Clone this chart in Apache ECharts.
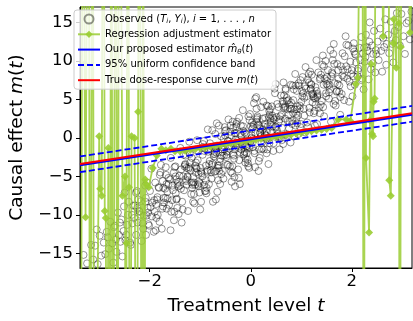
<!DOCTYPE html>
<html>
<head>
<meta charset="utf-8">
<script src="https://cdn.jsdelivr.net/npm/echarts@6/dist/echarts.min.js"></script>
<style>
html,body{margin:0;padding:0;background:#fff;}
#c{width:413px;height:321px;}
</style>
</head>
<body>
<div id="c"></div>
<script>
// Observed (T_i, Y_i), placed by reading the cloud in the picture
var observed = [
[-3.31,-15.2],[-3.24,-16.3],[-3.16,-13.9],[-3.12,-15.8],
[-3.08,-14.0],[-3.03,-16.4],[-2.99,-12.7],[-2.96,-15.3],[-2.91,-13.6],[-3.05,-11.9],
[-2.88,-15.1],[-2.85,-12.2],[-2.81,-14.4],[-2.78,-10.9],[-2.74,-13.7],[-2.72,-16.2],[-2.83,-12.9],[-2.71,-11.6],
[-2.69,-11.4],[-2.66,-14.8],[-2.63,-9.7],[-2.61,-12.6],[-2.58,-13.5],[-2.56,-10.6],[-2.54,-15.4],[-2.52,-12.1],[-2.67,-13.2],[-2.51,-8.9],[-2.59,-11.0],
[-2.463,-12.6],[-2.309,-10.4],[-2.496,-7.1],[-2.374,-13.9],[-2.431,-10.0],[-2.342,-11.1],[-2.482,-13.3],[-2.417,-8.3],[-2.353,-10.0],[-2.388,-13.6],[-2.324,-8.8],[-2.447,-11.3],
[-2.247,-9.1],[-2.269,-12.6],[-2.201,-9.6],[-2.116,-10.1],[-2.224,-8.0],[-2.162,-13.4],[-2.291,-8.8],[-2.138,-11.1],[-2.255,-6.9],[-2.179,-10.0],[-2.207,-9.5],[-2.131,-11.8],[-2.273,-7.1],[-2.242,-11.0],[-2.168,-8.2],
[-2.073,-12.6],[-2.042,-9.1],[-1.968,-4.0],[-1.902,-9.6],[-2.086,-8.3],[-2.013,-11.4],[-1.949,-8.4],[-2.035,-9.7],[-1.995,-6.9],[-1.921,-12.2],[-2.078,-7.8],[-1.958,-10.2],[-2.051,-5.8],[-1.984,-9.0],[-1.912,-8.1],[-2.028,-11.2],[-2.089,-6.2],[-2.063,-10.1],
[-1.742,-5.6],[-1.882,-12.0],[-1.817,-6.5],[-1.753,-9.2],[-1.788,-4.5],[-1.724,-7.8],[-1.847,-7.7],[-1.869,-10.4],[-1.801,-4.8],[-1.716,-8.4],[-1.824,-6.4],[-1.762,-11.8],[-1.891,-5.8],[-1.738,-8.9],[-1.855,-8.0],[-1.779,-3.5],[-1.807,-10.9],[-1.731,-6.5],[-1.873,-8.6],[-1.842,-10.0],
[-1.595,-5.4],[-1.521,-10.7],[-1.678,-4.8],[-1.558,-8.1],[-1.651,-7.0],[-1.584,-2.6],[-1.512,-9.6],[-1.628,-6.0],[-1.689,-7.8],[-1.663,-9.2],[-1.509,-3.8],[-1.696,-6.6],[-1.574,-9.6],[-1.631,-5.2],[-1.542,-6.8],[-1.682,-3.8],[-1.617,-8.7],[-1.553,-6.2],[-1.588,-12.0],[-1.524,-4.5],[-1.647,-7.9],[-1.669,-6.0],
[-1.491,-3.7],[-1.338,-5.0],[-1.455,-9.1],[-1.379,-4.1],[-1.407,-6.2],[-1.331,-2.2],[-1.473,-8.0],[-1.442,-5.7],[-1.368,-11.0],[-1.302,-3.5],[-1.486,-7.2],[-1.413,-4.9],[-1.349,-9.3],[-1.435,-6.3],[-1.395,-1.3],[-1.321,-6.8],[-1.478,-5.4],[-1.358,-8.3],[-1.451,-6.0],[-1.384,-6.6],[-1.312,-3.7],[-1.428,-9.9],[-1.489,-5.0],[-1.463,-7.9],
[-1.296,-3.4],[-1.174,-5.8],[-1.231,-4.0],[-1.142,-8.3],[-1.282,-5.6],[-1.217,-0.5],[-1.153,-6.1],[-1.188,-4.2],[-1.124,-7.3],[-1.247,-5.1],[-1.269,-6.1],[-1.201,-3.2],[-1.116,-8.5],[-1.224,-3.8],[-1.162,-6.5],[-1.291,-2.3],[-1.138,-5.1],[-1.255,-5.0],[-1.179,-7.3],[-1.207,-2.1],[-1.131,-5.8],[-1.273,-3.9],[-1.242,-9.5],[-1.168,-2.6],[-1.102,-6.1],[-1.286,-5.4],
[-1.086,-3.2],[-1.013,-5.9],[-0.949,-0.8],[-1.035,-4.7],[-0.995,-3.9],[-0.921,-6.1],[-1.078,-1.6],[-0.958,-5.0],[-1.051,-2.9],[-0.984,-8.3],[-0.912,-1.4],[-1.028,-5.7],[-1.089,-4.5],[-1.063,-0.3],[-0.909,-6.9],[-1.096,-3.6],[-0.974,-4.6],[-1.031,-6.3],[-0.942,-1.2],[-1.082,-3.9],[-1.017,-7.1],[-0.953,-2.2],[-0.988,-4.4],[-0.924,-0.4],[-1.047,-6.1],[-1.069,-4.0],[-1.001,-9.3],[-0.916,-1.7],
[-0.716,-4.4],[-0.824,-3.4],[-0.762,1.0],[-0.891,-6.9],[-0.738,-2.1],[-0.855,-4.2],[-0.779,-5.3],[-0.807,-0.7],[-0.731,-2.4],[-0.873,-6.5],[-0.842,-1.8],[-0.768,-3.5],[-0.702,0.5],[-0.886,-5.5],[-0.813,-3.0],[-0.749,-8.3],[-0.835,-1.5],[-0.795,-4.2],[-0.721,-1.8],[-0.878,-7.2],[-0.758,-3.3],[-0.851,1.1],[-0.784,-4.5],[-0.712,-2.1],[-0.828,-6.0],[-0.889,-3.6],[-0.863,-4.4],[-0.709,-1.1],
[-0.584,-4.7],[-0.512,0.9],[-0.628,-3.6],[-0.689,-1.4],[-0.663,-7.0],[-0.509,0.3],[-0.696,-4.3],[-0.574,-2.3],[-0.631,1.6],[-0.542,-5.3],[-0.682,-1.9],[-0.617,-3.1],[-0.553,-4.3],[-0.588,0.2],[-0.524,-1.5],[-0.647,-5.5],[-0.669,-1.0],[-0.601,-2.7],[-0.516,1.4],[-0.624,-4.3],[-0.562,-1.8],[-0.691,-8.0],[-0.538,-0.1],[-0.655,-3.6],[-0.579,-1.2],[-0.607,-6.0],[-0.531,-2.3],[-0.673,1.9],[-0.642,-3.9],[-0.568,-1.5],
[-0.353,-2.1],[-0.388,0.3],[-0.324,-5.1],[-0.447,-0.4],[-0.469,-3.5],[-0.401,1.6],[-0.316,-1.5],[-0.424,-1.4],[-0.362,-3.7],[-0.491,1.0],[-0.338,-2.3],[-0.455,-0.4],[-0.379,-5.7],[-0.407,0.8],[-0.331,-2.7],[-0.473,-1.8],[-0.442,2.4],[-0.368,-4.6],[-0.302,-0.2],[-0.486,-2.5],[-0.413,-3.7],[-0.349,1.3],[-0.435,-1.1],[-0.395,-4.4],[-0.321,0.6],[-0.478,-2.2],[-0.358,2.1],[-0.451,-3.5],[-0.384,-1.0],[-0.312,-6.3],
[-0.207,0.6],[-0.131,-2.1],[-0.273,2.1],[-0.242,-1.3],[-0.168,-0.4],[-0.102,-2.7],[-0.286,1.8],[-0.213,-1.9],[-0.149,0.9],[-0.235,-5.2],[-0.195,1.6],[-0.121,-1.8],[-0.278,-1.0],[-0.158,3.6],[-0.251,-4.1],[-0.184,0.3],[-0.112,-0.9],[-0.228,-2.9],[-0.289,1.5],[-0.263,-0.4],[-0.109,-3.2],[-0.296,0.6],[-0.174,-0.9],[-0.231,2.6],[-0.142,-2.2],[-0.282,-0.7],[-0.217,-6.0],[-0.153,1.5],[-0.188,-1.5],[-0.124,0.7],
[-0.078,-1.1],[0.042,1.4],[-0.051,-3.7],[0.016,0.0],[0.088,5.1],[-0.028,-1.3],[-0.089,0.5],[-0.063,-2.8],[0.091,0.6],[-0.096,-1.1],[0.026,2.0],[-0.031,-3.9],[0.058,1.7],[-0.082,-2.0],[-0.017,3.1],[0.047,-0.1],[0.012,0.4],[0.076,-2.0],[-0.047,2.8],[-0.069,-1.3],[-0.001,1.5],[0.084,-3.8],[-0.024,2.3],[0.038,-1.2],[-0.091,-0.3],[0.062,4.5],[-0.055,-3.3],[0.021,1.1],[-0.007,-0.5],[0.069,-1.7],
[0.169,1.6],[0.258,-1.5],[0.118,2.4],[0.183,0.7],[0.247,4.7],[0.212,-0.7],[0.276,1.8],[0.153,-4.3],[0.131,2.8],[0.199,0.2],[0.284,2.6],[0.176,-2.6],[0.238,1.1],[0.109,5.3],[0.262,0.1],[0.145,1.7],[0.221,-1.4],[0.193,1.2],[0.269,0.6],[0.127,2.6],[0.158,-3.0],[0.232,2.5],[0.298,-0.2],[0.114,3.8],[0.187,0.6],[0.251,1.5],[0.165,-1.5],[0.205,4.0],[0.279,0.4],[0.122,2.1],
[0.345,4.1],[0.421,0.6],[0.393,2.0],[0.469,6.4],[0.327,-1.5],[0.358,2.7],[0.432,1.5],[0.498,0.3],[0.314,4.2],[0.387,2.5],[0.451,-0.7],[0.365,3.5],[0.405,1.7],[0.479,5.8],[0.322,-0.1],[0.442,2.6],[0.349,-3.4],[0.416,4.1],[0.488,1.5],[0.372,3.0],[0.311,-2.0],[0.337,1.5],[0.491,7.0],[0.304,0.3],[0.426,2.9],[0.369,-0.7],[0.458,2.4],[0.318,0.8],[0.383,3.7],[0.447,-1.7],
[0.651,3.9],[0.565,0.1],[0.605,3.0],[0.679,2.5],[0.522,4.4],[0.642,-0.8],[0.549,4.0],[0.616,1.3],[0.688,6.4],[0.572,2.4],[0.511,2.7],[0.537,0.2],[0.691,6.2],[0.504,1.4],[0.626,4.4],[0.569,-1.5],[0.658,5.5],[0.518,1.0],[0.583,2.8],[0.647,7.2],[0.612,-0.3],[0.676,4.1],[0.553,2.1],[0.531,0.5],[0.599,5.5],[0.684,3.9],[0.576,-0.1],[0.638,4.8],
[0.731,2.2],[0.799,4.6],[0.884,1.6],[0.776,3.8],[0.838,3.2],[0.709,5.2],[0.862,0.2],[0.745,4.9],[0.821,2.2],[0.793,6.9],[0.869,3.7],[0.727,3.7],[0.758,1.2],[0.832,6.8],[0.898,3.1],[0.714,4.8],[0.787,-0.6],[0.851,6.3],[0.765,2.1],[0.805,3.8],[0.879,8.3],[0.722,0.3],[0.842,4.9],[0.749,3.0],[0.816,1.8],[0.888,6.8],[0.772,4.3],[0.711,0.5],
[0.972,3.8],[0.911,6.1],[0.937,0.5],[1.091,6.4],[0.904,2.6],[1.026,7.9],[0.969,4.2],[1.058,5.2],[0.918,1.9],[0.983,7.5],[1.047,3.8],[1.012,6.1],[1.076,0.7],[0.953,6.8],[0.931,2.9],[0.999,4.7],[1.084,9.2],[0.976,1.4],[1.038,5.8],[0.909,3.7],[1.062,2.9],[0.945,7.1],[1.021,5.4],[0.993,1.8],[1.069,6.7],[0.927,4.1],
[1.183,6.3],[1.247,3.2],[1.212,5.7],[1.276,5.1],[1.153,7.2],[1.131,1.4],[1.199,6.9],[1.284,4.3],[1.176,8.6],[1.238,5.4],[1.109,5.4],[1.262,3.5],[1.145,8.3],[1.221,4.6],[1.193,7.0],[1.269,1.6],[1.127,7.6],[1.158,3.9],[1.232,5.7],[1.298,10.1],[1.114,2.0],[1.187,6.4],[1.251,5.2],[1.165,3.3],[1.205,8.2],[1.279,6.6],
[1.432,4.0],[1.498,7.0],[1.314,5.3],[1.387,8.2],[1.451,2.8],[1.365,7.6],[1.405,4.8],[1.479,10.0],[1.322,5.7],[1.442,6.9],[1.349,3.9],[1.416,9.5],[1.488,5.8],[1.372,7.8],[1.311,1.8],[1.337,8.5],[1.491,5.4],[1.304,6.1],[1.426,10.7],[1.369,3.2],[1.458,7.7],[1.318,5.5],[1.383,4.3],[1.447,9.3],
[1.576,11.4],[1.638,4.4],[1.509,7.9],[1.662,7.1],[1.545,5.1],[1.621,10.1],[1.593,8.0],[1.669,4.8],[1.527,8.8],[1.558,6.9],[1.632,10.9],[1.698,6.0],[1.514,7.4],[1.587,2.1],[1.651,9.6],[1.565,6.3],[1.605,8.5],[1.679,4.2],[1.522,6.8],[1.642,12.2],[1.549,5.9],[1.616,8.3],
[1.842,7.9],[1.749,6.0],[1.816,11.0],[1.888,9.3],[1.772,5.3],[1.711,9.6],[1.737,7.7],[1.891,12.1],[1.704,6.1],[1.826,8.8],[1.769,3.0],[1.858,10.6],[1.718,7.0],[1.783,9.3],[1.847,4.9],[1.812,8.1],[1.876,13.2],[1.753,6.8],[1.731,8.8],[1.799,5.7],
[2.026,8.0],[1.969,9.9],[2.058,6.9],[1.918,8.9],[1.983,8.3],[2.047,11.2],[2.012,5.4],[2.076,10.8],[1.953,7.3],[1.931,12.0],[1.999,8.8],[2.084,9.8],[1.976,6.7],[2.038,12.3],[1.909,7.7],[2.062,10.9],[1.945,4.7],[2.021,11.6],
[2.221,11.0],[2.193,7.5],[2.269,10.5],[2.127,9.0],[2.158,11.7],[2.232,6.3],[2.298,11.8],[2.114,8.0],[2.187,13.1],[2.251,9.9],[2.165,10.1],[2.205,7.7],[2.279,13.4],[2.122,8.7],[2.242,11.7],
[2.412,9.7],[2.476,11.4],[2.353,15.0],[2.331,7.6],[2.399,12.0],[2.484,10.9],[2.376,8.9],[2.438,13.9],[2.309,11.3],[2.462,8.5],[2.345,12.5],[2.421,10.9],
[2.51,12.5],[2.53,10.1],[2.56,14.2],[2.58,11.3],[2.60,8.6],[2.62,13.0],[2.64,11.8],[2.66,15.4],[2.68,9.5],[2.69,12.2],
[2.72,13.4],[2.74,11.0],[2.77,15.1],[2.80,12.2],[2.82,9.8],[2.85,13.9],[2.87,12.7],[2.89,16.2],
[2.92,14.4],[2.95,12.0],[2.98,16.1],[3.02,13.2],[3.05,10.9],[3.08,14.9],
[3.12,15.2],[3.15,12.8],[3.18,16.4]
];

// Regression adjustment estimator (values beyond the axis run off the plot)
var regAdj = [
[-3.37,-60],[-3.32,60],[-3.29,9.6],[-3.27,-10.3],[-3.21,60],[-3.18,-60],[-3.13,60],[-3.10,-60],
[-3.00,0.2],[-2.98,-6.6],[-2.95,-7.5],[-2.92,60],[-2.89,-9.5],[-2.87,-10.4],[-2.84,-60],[-2.82,-1.3],
[-2.79,-60],[-2.76,60],[-2.73,-60],[-2.67,60],[-2.64,-60],[-2.60,60],[-2.54,-7.5],[-2.49,-5.0],
[-2.47,-60],[-2.46,-13.7],[-2.43,60],[-2.41,-6.4],[-2.39,-60],[-2.36,0.2],[-2.30,0.0],[-2.26,-60],
[-2.23,3.4],[-2.21,60],[-2.15,-60],[-2.13,60],[-2.11,-60],[-2.09,-5.4],[-2.06,-6.1],[-2.02,-6.4],
[-1.94,-3.9],[-1.86,-2.3],[-1.77,-1.4],[-1.68,-1.6],[-1.58,-1.4],
[-1.50,-1.75],[-1.40,-1.72],[-1.30,-1.66],[-1.20,-1.58],[-1.10,-1.47],[-1.00,-1.36],[-0.90,-1.27],
[-0.80,-1.16],[-0.70,-1.04],[-0.60,-0.96],[-0.50,-0.83],[-0.40,-0.74],[-0.30,-0.66],[-0.20,-0.54],
[-0.10,-0.46],[0.00,-0.35],[0.10,-0.27],[0.20,-0.16],[0.30,-0.05],[0.40,0.04],[0.50,0.14],[0.60,0.26],
[0.70,0.33],[0.80,0.45],[0.90,0.56],[1.00,0.64],[1.10,0.76],[1.20,0.85],[1.30,0.96],[1.40,1.06],
[1.50,1.15],[1.60,1.27],[1.73,2.4],[1.89,2.4],[1.97,2.2],
[2.08,7.0],[2.12,7.8],[2.20,60],[2.24,-60],[2.26,60],[2.28,-2.6],[2.34,-12.3],[2.36,2.3],[2.38,9.6],
[2.40,0.5],[2.42,0.2],[2.43,4.7],[2.45,5.1],[2.50,60],[2.62,13.2],[2.72,60],[2.74,-5.5],[2.77,-7.5],
[2.82,12.3],[2.83,15.4],[2.88,9.1],[2.91,60],[2.93,14.9],[2.95,-60],[2.97,11.8],[3.00,60],
[3.15,13.7],[3.19,20]
];

// Our proposed estimator and its 95% uniform confidence band
var estT = [-3.38, -1.5, 0, 1.5, 3.19];
var estY = [-3.53, -1.65, -0.15, 1.35, 3.04];
var bandUpper = [-2.41, -0.55, 0.97, 2.47, 4.15];
var bandLower = [-4.45, -2.58, -1.05, 0.45, 2.10];
// True dose-response curve m(t)
var trueT = [-3.38, 3.19];
var trueY = [-3.38, 3.19];

var xTicks = [-2, 0, 2];
var yTicks = [-15, -10, -5, 0, 5, 10, 15];

function pairs(xs, ys){ return xs.map(function(x,i){ return [x, ys[i]]; }); }
function minus(v){ return String(v).replace('-', '\u2212'); }

var FONT = 'DejaVu Sans';
var legendRich = {
  'Observed': '{r|Observed (}{it|T}{sb|i}{r|, }{it|Y}{sb|i}{r|), }{it|i}{r| = 1, . . . , }{it|n}',
  'Regression adjustment estimator': '{r|Regression adjustment estimator}',
  'Our proposed estimator': '{r|Our proposed estimator }{it|m\u0302}{sb|\u03b8}{r|(}{it|t}{r|)}',
  '95% uniform confidence band': '{r|95% uniform confidence band}',
  'True dose-response curve': '{r|True dose-response curve }{it|m}{r|(}{it|t}{r|)}'
};
var noSym = {opacity: 0};

var chart = echarts.init(document.getElementById('c'), null, {renderer:'canvas'});
chart.setOption({
  animation: false,
  backgroundColor: '#fff',
  grid: {left: 71, right: 1, top: 7, bottom: 44, show: true, borderColor: '#000', borderWidth: 1, backgroundColor: 'transparent'},
  legend: {
    orient: 'vertical', left: 74, top: 10,
    padding: [3, 5, 3, 3], itemGap: 3.3,
    itemWidth: 22, itemHeight: 9,
    backgroundColor: 'rgba(255,255,255,0.8)',
    borderColor: '#cccccc', borderWidth: 1, borderRadius: 3,
    formatter: function(n){ return legendRich[n] || n; },
    textStyle: {
      fontFamily: FONT, fontSize: 10, color: '#000', lineHeight: 12,
      rich: {
        r: {fontFamily: FONT, fontSize: 10, color: '#000', lineHeight: 12},
        it: {fontFamily: FONT, fontSize: 10, fontStyle: 'italic', color: '#000', lineHeight: 12},
        sb: {fontFamily: FONT, fontSize: 7, fontStyle: 'italic', color: '#000', lineHeight: 7, verticalAlign: 'bottom'}
      }
    },
    data: [
      {name: 'Observed'},
      {name: 'Regression adjustment estimator'},
      {name: 'Our proposed estimator', itemStyle: noSym},
      {name: '95% uniform confidence band', itemStyle: noSym},
      {name: 'True dose-response curve', itemStyle: noSym}
    ]
  },
  xAxis: {
    type: 'value', min: -3.38, max: 3.19,
    name: '{n|Treatment level }{i|t}', nameLocation: 'middle', nameGap: 29,
    nameTextStyle: {rich: {
      n: {fontFamily: FONT, fontSize: 18.5, color: '#000'},
      i: {fontFamily: FONT, fontSize: 18.5, fontStyle: 'italic', color: '#000'}
    }},
    axisLine: {show: true, onZero: false, lineStyle: {color: '#000', width: 1}},
    axisTick: {show: true, length: 4, customValues: xTicks, lineStyle: {color: '#000'}},
    axisLabel: {customValues: xTicks, formatter: minus, fontFamily: FONT, fontSize: 16.5, color: '#000', margin: 5},
    splitLine: {show: false}
  },
  yAxis: {
    type: 'value', min: -16.9, max: 17,
    name: '{n|Causal effect }{i|m}{n|(}{i|t}{n|)}', nameLocation: 'middle', nameGap: 53, nameRotate: 90,
    nameTextStyle: {rich: {
      n: {fontFamily: FONT, fontSize: 18.5, color: '#000'},
      i: {fontFamily: FONT, fontSize: 18.5, fontStyle: 'italic', color: '#000'}
    }},
    axisLine: {show: true, onZero: false, lineStyle: {color: '#000', width: 1}},
    axisTick: {show: true, length: 4, customValues: yTicks, lineStyle: {color: '#000'}},
    axisLabel: {customValues: yTicks, formatter: minus, fontFamily: FONT, fontSize: 16.5, color: '#000', margin: 7},
    splitLine: {show: false}
  },
  series: [
    {
      name: 'Observed', type: 'scatter', data: observed,
      symbol: 'circle', symbolSize: 7,
      itemStyle: {color: 'rgba(0,0,0,0)', borderColor: 'rgba(0,0,0,0.52)', borderWidth: 1},
      z: 1
    },
    {
      name: 'Regression adjustment estimator', type: 'line', data: regAdj,
      symbol: 'diamond', symbolSize: 8, showSymbol: true,
      lineStyle: {color: '#9acd32', width: 1.8, opacity: 0.85},
      itemStyle: {color: '#9acd32', opacity: 0.9},
      z: 2
    },
    {
      name: '95% uniform confidence band', type: 'line', data: pairs(estT, bandUpper),
      symbol: 'none', lineStyle: {color: '#0000ff', width: 1.8, type: [6, 3]}, itemStyle: {color: '#0000ff'}, z: 3
    },
    {
      name: '95% uniform confidence band', type: 'line', data: pairs(estT, bandLower),
      symbol: 'none', lineStyle: {color: '#0000ff', width: 1.8, type: [6, 3]}, itemStyle: {color: '#0000ff'}, z: 3
    },
    {
      name: 'Our proposed estimator', type: 'line', data: pairs(estT, estY),
      symbol: 'none', lineStyle: {color: '#0000ff', width: 2.6}, itemStyle: {color: '#0000ff'}, z: 4
    },
    {
      name: 'True dose-response curve', type: 'line', data: pairs(trueT, trueY),
      symbol: 'none', lineStyle: {color: '#ff0000', width: 2}, itemStyle: {color: '#ff0000'}, z: 5
    }
  ]
});
</script>
</body>
</html>
